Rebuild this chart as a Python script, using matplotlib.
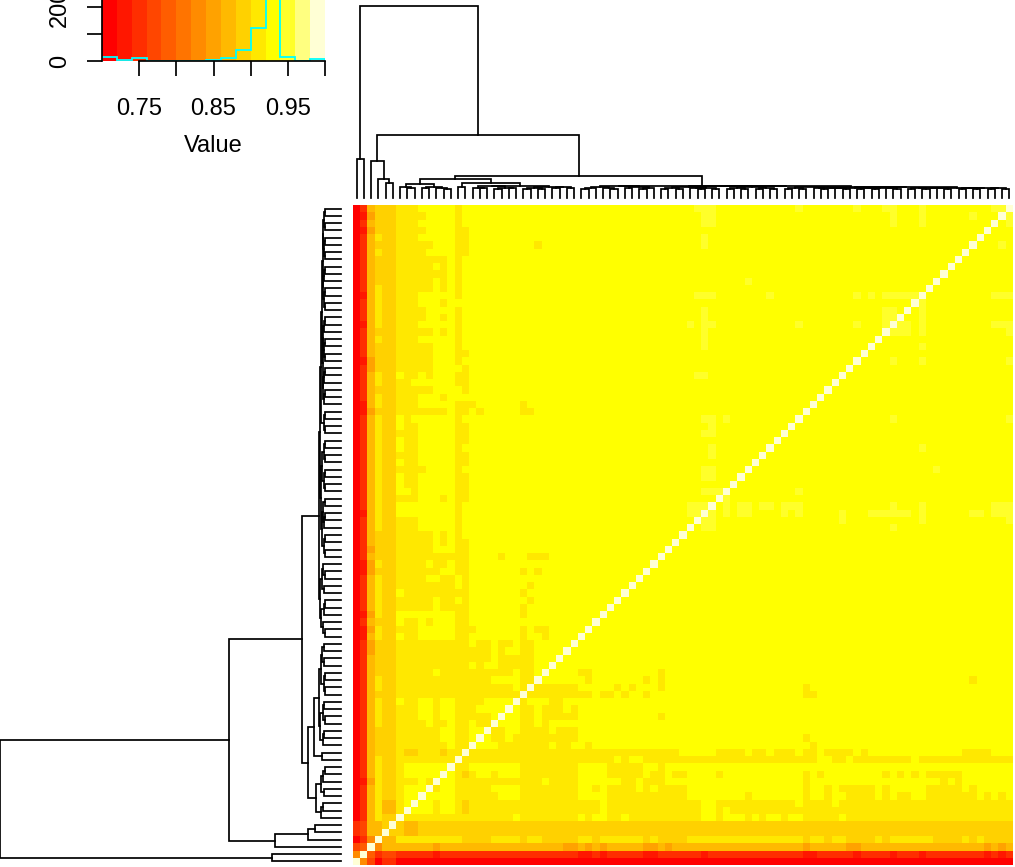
import numpy as np
import matplotlib
matplotlib.use("Agg")
import matplotlib.pyplot as plt
from matplotlib.colors import ListedColormap, BoundaryNorm

plt.rcParams["font.family"] = ["Liberation Sans", "DejaVu Sans"]

# colour key: 15 bins of heat.colors
breaks = [0.70, 0.72, 0.74, 0.76, 0.78, 0.80, 0.82, 0.84, 0.86, 0.88, 0.90, 0.92, 0.94, 0.96, 0.98, 1.00]
heat_colors = ["#FF0000", "#FF1700", "#FF2E00", "#FF4600", "#FF5D00", "#FF7400", "#FF8B00", "#FFA200",
               "#FFB900", "#FFD100", "#FFE800", "#FFFF00", "#FFFF2A", "#FFFF80", "#FFFFD5"]
hist_counts = [16, 4, 12, 0, 0, 0, 0, 4, 12, 41, 121, 7000, 16, 1, 9]
level_chars = "0123456789abcde"

# rows counted from the bottom, run length coded: level + count
bottom_rows = [
    "e1 61 31 01 12 085",
    "61 e1 41 21 32 21 12 21 11 21 12 24 11 212 12 21 11 25 12 26 11 213 12 25 11 24 11 23 11 28 11 21 11 21",
    "31 41 e1 61 73 64 81 62 82 73 810 72 81 71 81 71 85 72 81 71 818 71 85 72 817 71 81 71 81",
    "01 21 61 e1 82 a8 95 a4 91 a2 95 a2 91 a6 91 a1 94 a16 91 a2 91 a2 94 a1 91 a6 94 a1 91 a1 94",
    "21 31 82 e1 81 91 82 982",
    "21 31 82 91 e1 a1 82 982",
    "01 21 81 a1 92 e1 a15 b1 a8 b1 a1 b2 a2 b1 a10 b2 a1 b3 a1 b1 a1 b2 a1 b2 a5 b1 a23",
    "01 21 81 a1 82 a1 e1 b3 a1 b2 a1 91 a18 b1 a13 b2 a41",
    "01 21 81 a1 82 a1 b1 e1 b2 a1 b2 a1 91 a18 b1 a13 b2 a1 b1 a14 b1 a24",
    "01 21 81 a1 92 a1 b2 e1 b4 a6 b3 a8 b4 a10 b8 a1 b8 a1 b1 a2 b2 a4 b1 a1 b1 a2 b2 a7 b1 a1 b1 a1 b1",
    "01 21 81 a1 92 a1 b3 e1 a1 b2 a5 b4 a8 b2 a1 b1 a4 b1 a1 b1 a4 b16 a1 b1 a2 b1 a5 b1 a1 b5 a5 b1 a1 b5",
    "01 11 71 a1 92 a3 b1 a1 e1 b2 a12 b1 a4 b6 a2 b1 a3 b19 a1 b17 a1 b1 a1 b8",
    "01 21 81 a1 92 a1 b5 e1 b1 a1 91 a1 b2 a1 b3 a8 b4 a5 b1 a2 b1 a2 b4 a1 b11 a1 b1 a1 b8 a1 b1 a1 b1 a1 b1 a5 b7",
    "01 21 81 a1 92 a1 b6 e1 a2 b7 a8 b4 a5 b2 a1 b48",
    "01 21 81 a1 92 a8 e1 a21 b1 a1 b2 a24 b2 a2 b1 a8 b1 a13",
    "01 21 81 93 a1 92 a3 91 a2 e1 a29 b5 a4 b1 a2 b1 a3 b1 a2 b1 a4 b1 a1 b13 a4 b3",
    "01 21 81 93 a7 b1 a2 e1 b3 a7 b1 a2 b2 a1 b30 a1 b27",
    "01 21 81 93 a6 b2 a2 b1 e1 b1 a2 b1 a9 b31 a1 b28",
    "01 21 81 93 a6 b2 a2 b2 e1 a2 b2 a4 b1 a3 b60",
    "01 21 81 a1 92 a4 b1 a2 b1 a2 b1 a2 e1 b3 a2 b1 a1 b64",
]
# rows 20 to 41, starting at column 20
mid_rows = [
    "e1 b2 a2 b1 a5 b11 a1 b48",
    "b1 e1 b1 a2 b1 a3 b1 a1 b60",
    "b2 e1 a1 b3 a2 b62",
    "a3 e1 a9 b1 a2 b1 a1 b2 a1 b50",
    "a2 b1 a1 e1 a6 b5 a1 b1 a1 b3 a1 b48",
    "b3 a2 e1 b6 a1 b7 a1 b1 a1 b48",
    "a2 b1 a2 b1 e1 b4 a2 b9 a1 b48",
    "a5 b66",
    "a5 b66",
    "a1 b2 a2 b66",
    "a2 b1 a2 b66",
    "b3 a1 b2 a1 b64",
    "b3 a1 b1 a2 b64",
    "b71",
    "b3 a1 b67",
    "b3 a1 b67",
    "b4 a1 b66",
    "b3 a1 b67",
    "b4 a1 b66",
    "b71",
    "b3 a1 b1 a1 b65",
    "b71",
]
# rows 90 down to 42, columns 0 to 15
top_rows = [
    "028999aaabbbbbab", "017999aaaabbbbab", "028999aaabbbbbab", "017999aaaabbbbaa", "028a99aaabbbbbaa",
    "028999aaaaabbbaa", "028a99aaaabbbbaa", "028999aaaaaaabab", "028999aaaaababab", "028999aaaaaaabab",
    "028999aaaaababab", "028a99aaaaababab", "018a99aaabbbbbab", "028a99aaabbbabbb", "028a99aaaabbbbab",
    "028a99aaaabbabab", "018a99aaabbbbbab", "028999aaaaababab", "028a99aaabbbbbab", "028999aaaaabbbab",
    "028999aaaaabbbaa", "017999aaaaabbbab", "027999aaaaabbbba", "028a99baababbbaa", "028a99aabbbbbbaa",
    "028999aaaaabbbba", "028a99aaabbbabbb", "018a99aaabbbbbaa", "017999aaaaaaabaa", "028a99babbbbbbab",
    "028a99baabbbbbaa", "028a99aaabbbbbaa", "028a99baabbbbbaa", "028a99baabbbbbab", "028a99aaabbbbbaa",
    "028a99baabbbbbaa", "028a99aaaabbbbab", "028a99baabbbbbaa", "028a99baabbbbbaa", "028a99bbabbbbbaa",
    "028a99aaabbbabaa", "028a99bbbbbbbbab", "018a99bbbbbbbbab", "028a99aaabbbbbab", "028a99aaabbbbbab",
    "028999aaaaababab", "028999aaaaababaa", "027999aaaaabbbaa", "028999aaaaaaaaaa",
]
gold_cells = [(85, 25), (63, 16), (63, 23), (62, 17), (62, 23), (62, 24), (42, 20), (42, 24), (42, 25), (42, 26)]
pale_cells = {
    90: [47, 48, 49, 61, 69, 73, 74, 78, 88, 89], 89: [48, 49, 74, 78, 85], 88: [48, 49, 74, 78],
    86: [48], 85: [48], 80: [54], 78: [47, 48, 49, 57, 69, 71, 73, 74, 75, 76, 77, 88, 89, 90],
    76: [48, 73, 74], 75: [48, 73, 74], 74: [46, 48, 49, 61, 69, 73, 88, 89, 90], 73: [48, 90],
    72: [48], 71: [48], 67: [47, 48], 61: [48, 49, 51, 74, 90], 60: [49], 59: [48, 49],
    57: [49, 78], 56: [49], 54: [48, 49, 80], 53: [48, 49], 51: [48, 49, 50, 61], 50: [51],
    49: [46, 47, 48, 51, 53, 54, 56, 57, 59, 60, 61, 74, 78, 88, 89, 90],
    48: [46, 47, 51, 53, 54, 59, 61, 67, 71, 72, 73, 74, 75, 76, 78, 85, 86, 88, 89, 90],
    47: [49, 67, 78, 90], 46: [48, 49, 74],
}

# cluster tree: (height, left, right), None is a leaf
o = None
p = (16, o, o)
tri = (17, o, p)
quad = (17.5, p, p)
leaves_6_13 = (25, (20, o, (18, o, o)), (20, (17, o, o), (18, o, p)))
leaves_16_30 = (22, (21, (18, o, (17, o, o)), (18, p, (17, o, o))), (20, (17, p, p), (19, (17, o, o), (17, o, o))))
leaves_31_41 = (21, (20, (18, p, o), (17, o, p)), (19, (17, o, o), (18, p, o)))
leaves_42_58 = (20.5, (19, quad, (18, tri, p)), (19, quad, quad))
leaves_63_90 = (19.5, (18.5, (18, tri, tri), (18, quad, tri)), (18.5, (18, quad, tri), (18.5, quad, quad)))
right_side = (22, leaves_31_41, (21, leaves_42_58, (20, quad, leaves_63_90)))
left_side = (33, leaves_6_13, (27, (19, o, o), leaves_16_30))
tree = (341, (69, o, o), (112, (66, o, (33, o, (26, o, o))), (39, left_side, right_side)))

n = 91
W, H = 1015, 867


def decode(text):
    out = ""
    for tok in text.split():
        out += tok[0] * int(tok[1:])
    return out


mat = np.full((n, n), level_chars.index("b"))
for r, text in enumerate(bottom_rows):
    for c, ch in enumerate(decode(text)[:n]):
        mat[r, c] = mat[c, r] = level_chars.index(ch)
for i, text in enumerate(mid_rows):
    r = 20 + i
    for j, ch in enumerate(decode(text)[:n - 20]):
        mat[r, 20 + j] = mat[20 + j, r] = level_chars.index(ch)
for i, text in enumerate(top_rows):
    r = 90 - i
    for c, ch in enumerate(text):
        mat[r, c] = mat[c, r] = level_chars.index(ch)
for r, c in gold_cells:
    mat[r, c] = mat[c, r] = level_chars.index("a")
for r, cols in pale_cells.items():
    for c in cols:
        mat[r, c] = mat[c, r] = level_chars.index("c")
for i in range(n):
    mat[i, i] = level_chars.index("e")

fig = plt.figure(figsize=(W / 100, H / 100), dpi=100)


def axes_px(left, right, top, bottom):
    # pixel box measured from the top left of the picture
    return fig.add_axes([left / W, 1 - bottom / H, (right - left) / W, (bottom - top) / H])


cmap = ListedColormap(heat_colors)
norm = BoundaryNorm(np.arange(16) - 0.5, 15)

# heat map
ax = axes_px(353, 1013, 205, 865)
ax.imshow(mat, origin="lower", extent=(0, n, 0, n), cmap=cmap, norm=norm, interpolation="nearest", aspect="auto")
ax.axis("off")

# dendrograms
counter = [0]


def walk(node, axis, flip):
    if node is None:
        counter[0] += 1
        return counter[0] - 0.5, 0
    h, a, b = node
    p1, h1 = walk(a, axis, flip)
    p2, h2 = walk(b, axis, flip)
    xs, ys = [p1, p1, p2, p2], [h1, h, h, h2]
    if flip:
        xs, ys = ys, xs
    axis.plot(xs, ys, color="black", lw=1.25, solid_joinstyle="miter", clip_on=False)
    return (p1 + p2) / 2, h


ax_top = axes_px(353, 1013, 6, 198)
walk(tree, ax_top, False)
ax_top.set_xlim(0, n)
ax_top.set_ylim(0, 341)
ax_top.axis("off")

counter[0] = 0
ax_left = axes_px(0, 341, 205, 865)
walk(tree, ax_left, True)
ax_left.set_xlim(341, 0)
ax_left.set_ylim(0, n)
ax_left.axis("off")

# colour key, its top runs off the picture
ax_key = axes_px(102, 325, -47, 61)
ax_key.pcolormesh(breaks, [0, 400], [np.arange(15)], cmap=cmap, norm=norm, antialiased=False)
ax_key.stairs(hist_counts, breaks, color="cyan", lw=1.3, baseline=0)
ax_key.set_xlim(0.70, 1.00)
ax_key.set_ylim(0, 400)
ax_key.spines["top"].set_visible(False)
ax_key.spines["right"].set_visible(False)
ax_key.spines["bottom"].set_bounds(0.75, 1.00)
for s in ax_key.spines.values():
    s.set_linewidth(1.25)
ax_key.set_xticks([0.75, 0.80, 0.85, 0.90, 0.95, 1.00])
ax_key.set_xticklabels(["0.75", "", "0.85", "", "0.95", ""])
ax_key.set_yticks([0, 100, 200, 300])
ax_key.set_yticklabels(["0", "", "200", ""], rotation=90, va="center")
ax_key.tick_params(axis="x", length=10.8, width=1.25, labelsize=17, pad=15.5)
ax_key.tick_params(axis="y", length=10.8, width=1.25, labelsize=17, pad=11.5)
ax_key.set_xlabel("Value", fontsize=17, labelpad=11)

fig.savefig("out.png", dpi=100)
